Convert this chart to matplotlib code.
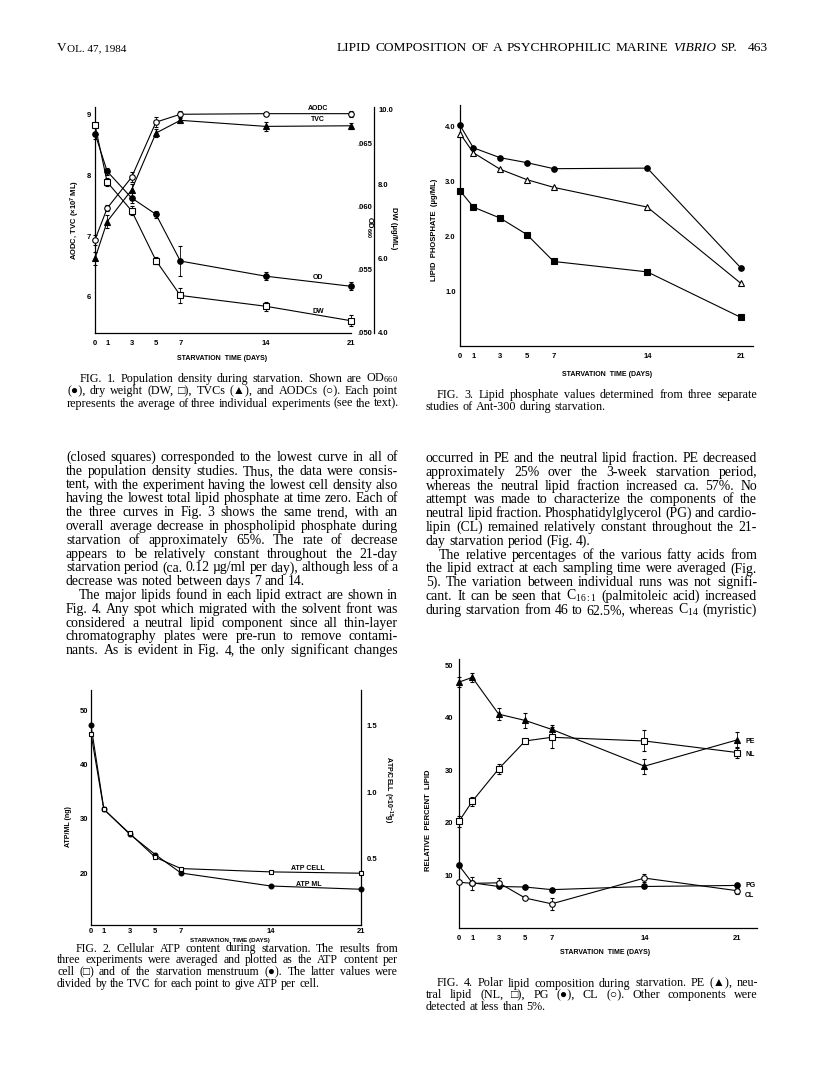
import matplotlib
matplotlib.use("Agg")
import matplotlib.pyplot as plt

plt.rcParams["mathtext.fontset"] = "custom"
plt.rcParams["mathtext.rm"] = "Liberation Serif"
plt.rcParams["mathtext.it"] = "Liberation Serif:italic"
plt.rcParams["mathtext.bf"] = "Liberation Serif:bold"
plt.rcParams["mathtext.default"] = "regular"

W, H = 816, 1086
SERIF = ["Liberation Serif", "DejaVu Sans"]
SANS = ["Liberation Sans", "DejaVu Sans"]

days = [0, 1, 3, 5, 7, 14, 21]
day_labels = ["0", "1", "3", "5", "7", "14", "21"]

# fig 1: population density
aodc = [6.94, 7.46, 7.97, 8.88, 9.01, 9.02, 9.02]
aodc_err = [0.08, 0.05, 0.08, 0.08, 0.05, 0.0, 0.05]
tvc = [6.63, 7.24, 7.76, 8.70, 8.91, 8.81, 8.82]
tvc_err = [0.1, 0.1, 0.1, 0.06, 0.04, 0.07, 0.05]
od = [0.0658, 0.0628, 0.0607, 0.0594, 0.0557, 0.0545, 0.0537]
od_err = [0.0004, 0.0003, 0.0004, 0.0003, 0.0012, 0.0003, 0.0003]
dw = [9.60, 8.06, 7.29, 5.95, 5.01, 4.72, 4.33]
dw_err = [0.0, 0.1, 0.12, 0.1, 0.2, 0.12, 0.15]

# fig 2: ATP
atp_ml = [47.3, 31.8, 27.2, 23.4, 20.0, 17.6, 17.0]
atp_cell = [1.44, 0.87, 0.69, 0.51, 0.425, 0.40, 0.39]

# fig 3: lipid phosphate, three runs
lp_run1 = [4.02, 3.61, 3.43, 3.34, 3.23, 3.24, 1.42]
lp_run2 = [3.87, 3.52, 3.22, 3.03, 2.89, 2.53, 1.14]
lp_run3 = [2.83, 2.53, 2.33, 2.03, 1.54, 1.35, 0.52]

# fig 4: polar lipids
pe = [46.8, 47.7, 40.7, 39.5, 37.8, 30.8, 35.8]
pe_err = [1.0, 0.8, 1.2, 1.5, 0.8, 1.4, 1.6]
nl = [20.3, 24.1, 30.3, 35.6, 36.3, 35.6, 33.4]
nl_err = [1.0, 0.9, 1.0, 0.3, 2.0, 2.0, 1.0]
pg = [11.9, 8.6, 7.9, 7.8, 7.3, 7.9, 8.1]
cl = [8.7, 8.5, 8.6, 5.7, 4.6, 9.5, 7.1]
cl_err = [0.0, 1.2, 1.0, 0.0, 1.2, 0.8, 0.6]

title_words = ["LIPID", "COMPOSITION", "OF", "A", "PSYCHROPHILIC", "MARINE", "VIBRIO", "SP."]

left_text = [
    "(closed squares) corresponded to the lowest curve in all of",
    "the population density studies. Thus, the data were consis-",
    "tent, with the experiment having the lowest cell density also",
    "having the lowest total lipid phosphate at time zero. Each of",
    "the three curves in Fig. 3 shows the same trend, with an",
    "overall average decrease in phospholipid phosphate during",
    "starvation of approximately 65%. The rate of decrease",
    "appears to be relatively constant throughout the 21-day",
    "starvation period (ca. 0.12 \u00b5g/ml per day), although less of a",
    "decrease was noted between days 7 and 14.",
    "The major lipids found in each lipid extract are shown in",
    "Fig. 4. Any spot which migrated with the solvent front was",
    "considered a neutral lipid component since all thin-layer",
    "chromatography plates were pre-run to remove contami-",
    "nants. As is evident in Fig. 4, the only significant changes",
]
right_text = [
    "occurred in PE and the neutral lipid fraction. PE decreased",
    "approximately 25% over the 3-week starvation period,",
    "whereas the neutral lipid fraction increased ca. 57%. No",
    "attempt was made to characterize the components of the",
    "neutral lipid fraction. Phosphatidylglycerol (PG) and cardio-",
    "lipin (CL) remained relatively constant throughout the 21-",
    "day starvation period (Fig. 4).",
    "The relative percentages of the various fatty acids from",
    "the lipid extract at each sampling time were averaged (Fig.",
    "5). The variation between individual runs was not signifi-",
    "cant. It can be seen that C$_{16:1}$ (palmitoleic acid) increased",
    "during starvation from 46 to 62.5%, whereas C$_{14}$ (myristic)",
]
cap1 = [
    "FIG. 1. Population density during starvation. Shown are OD$_{660}$",
    "(\u25cf), dry weight (DW, \u25a1), TVCs (\u25b2), and AODCs (\u25cb). Each point",
    "represents the average of three individual experiments (see the text).",
]
cap2 = [
    "FIG. 2. Cellular ATP content during starvation. The results from",
    "three experiments were averaged and plotted as the ATP content per",
    "cell (\u25a1) and of the starvation menstruum (\u25cf). The latter values were",
    "divided by the TVC for each point to give ATP per cell.",
]
cap3 = [
    "FIG. 3. Lipid phosphate values determined from three separate",
    "studies of Ant-300 during starvation.",
]
cap4 = [
    "FIG. 4. Polar lipid composition during starvation. PE (\u25b2), neu-",
    "tral lipid (NL, \u25a1), PG (\u25cf), CL (\u25cb). Other components were",
    "detected at less than 5%.",
]

fig = plt.figure(figsize=(W / 100, H / 100), dpi=100)
renderer = fig.canvas.get_renderer()


def fx(px):
    return px / W


def fy(py):
    return 1 - py / H


def box(x0, y0, x1, y1):
    return [x0 / W, 1 - y1 / H, (x1 - x0) / W, (y1 - y0) / H]


def put_words(words, x0, x1, y, size, justify=True, italic=()):
    objs = [fig.text(0, fy(y), w, fontsize=size, family=SERIF, va="baseline",
                     style="italic" if w in italic else "normal") for w in words]
    widths = [o.get_window_extent(renderer).width for o in objs]
    if justify and len(words) > 1:
        gap = (x1 - x0 - sum(widths)) / (len(words) - 1)
    else:
        gap = size * 0.25 * 100 / 72
    x = x0
    for o, w in zip(objs, widths):
        o.set_x(fx(x))
        x += w + gap


def paragraph(lines, x0, x1, y0, step, size, indent_rows=(), last_rows=(), indent=13):
    for i, line in enumerate(lines):
        start = x0 + indent if i in indent_rows else x0
        put_words(line.split(), start, x1, y0 + i * step, size, justify=i not in last_rows)


def sans(x, y, s, size=5.5, **kw):
    fig.text(fx(x), fy(y), s, fontsize=size, family=SANS, weight="bold",
             ha="center", va="center", **kw)


def style(ax, xmax, ylim, yticks, ylabels, xpad, ypad):
    ax.set_xlim(0, xmax)
    ax.set_ylim(*ylim)
    ax.set_xticks(days)
    ax.set_xticklabels(day_labels)
    ax.set_yticks(yticks)
    ax.set_yticklabels(ylabels)
    ax.tick_params(length=0, labelsize=5.5)
    ax.tick_params(axis="x", pad=xpad)
    ax.tick_params(axis="y", pad=ypad)
    for lab in ax.get_xticklabels() + ax.get_yticklabels():
        lab.set_fontfamily(SANS)
        lab.set_fontweight("bold")
    ax.spines["top"].set_visible(False)
    ax.spines["right"].set_visible(False)
    for sp in ax.spines.values():
        sp.set_linewidth(0.9)
    ax.patch.set_visible(False)


def series(ax, y, marker, filled, err=None, ms=4):
    c = ax.errorbar(days, y, yerr=err, fmt="-" + marker, color="black", lw=0.8,
                    ms=ms, mfc="black" if filled else "white", mec="black", mew=0.8,
                    elinewidth=0.6, capsize=1.5, capthick=0.6, zorder=3)
    for a in c.get_children():
        a.set_clip_on(False)


def twin_style(tw):
    tw.tick_params(length=0, labelsize=5.5)
    for lab in tw.get_yticklabels():
        lab.set_fontfamily(SANS)
        lab.set_fontweight("bold")
    for sp in tw.spines.values():
        sp.set_visible(False)


# header
v = fig.text(fx(57), fy(51), "V", fontsize=9.5, family=SERIF)
vw = v.get_window_extent(renderer).width
fig.text(fx(57 + vw + 0.5), fy(51), "OL. 47, 1984", fontsize=8, family=SERIF)
put_words(title_words, 337, 737, 51, 9.6, italic={"VIBRIO"})
fig.text(fx(748), fy(51), "463", fontsize=9.6, family=SERIF)

# ---- FIG 1
x1max = 21 * (374 - 95) / (351 - 95)
ax1 = fig.add_axes(box(95, 107, 374, 333))
style(ax1, x1max, (5.40, 9.13), [6, 7, 8, 9], ["6", "7", "8", "9"], 5, 3)
ax1.spines["bottom"].set_bounds(0, 21)
series(ax1, aodc, "o", False, aodc_err)
series(ax1, tvc, "^", True, tvc_err)
ax_od = ax1.twinx()
ax_od.set_ylim(0.050, 0.0679)
ax_od.set_yticks([0.050, 0.055, 0.060, 0.065])
ax_od.set_yticklabels([".050", ".055", ".060", ".065"])
ax_od.yaxis.tick_left()
ax_od.spines["left"].set_position(("axes", 1.0))
twin_style(ax_od)
ax_od.spines["left"].set_visible(True)
ax_od.spines["left"].set_linewidth(0.9)
ax_od.tick_params(pad=1)
series(ax_od, od, "o", True, od_err)
ax_dw = ax1.twinx()
ax_dw.set_ylim(4.0, 10.08)
ax_dw.set_yticks([4, 6, 8, 10])
ax_dw.set_yticklabels(["4.0", "6.0", "8.0", "10.0"])
twin_style(ax_dw)
ax_dw.tick_params(pad=3)
series(ax_dw, dw, "s", False, dw_err)
ax1.text(18.3, 9.11, "AODC", fontsize=5, family=SANS, weight="bold", ha="center", va="center")
ax1.text(18.3, 8.92, "TVC", fontsize=5, family=SANS, weight="bold", ha="center", va="center")
ax1.text(18.3, 6.31, "OD", fontsize=5, family=SANS, weight="bold", ha="center", va="center")
ax1.text(18.3, 5.76, "DW", fontsize=5, family=SANS, weight="bold", ha="center", va="center")
sans(75, 220, "AODC, TVC (\u00d710$^7$ ML)", rotation=90)
sans(369, 227, "OD$_{660}$", rotation=270)
sans(393, 228, "DW (\u00b5g/ML)", rotation=270)
sans(222, 359, "STARVATION  TIME (DAYS)", size=5)

# ---- FIG 2
ax2 = fig.add_axes(box(91, 690, 361, 925))
style(ax2, 21, (10.4, 53.8), [20, 30, 40, 50], ["20", "30", "40", "50"], 2, 2)
ax2.spines["right"].set_visible(True)
ax2.spines["right"].set_linewidth(0.9)
series(ax2, atp_ml, "o", True, ms=3.5)
ax2r = ax2.twinx()
ax2r.set_ylim(0, 1.77)
ax2r.set_yticks([0.5, 1.0, 1.5])
ax2r.set_yticklabels(["0.5", "1.0", "1.5"])
twin_style(ax2r)
ax2r.tick_params(pad=4)
series(ax2r, atp_cell, "s", False, ms=3.5)
ax2.text(16.9, 20.9, "ATP CELL", fontsize=5, family=SANS, weight="bold", ha="center", va="center")
ax2.text(16.9, 17.9, "ATP ML", fontsize=5, family=SANS, weight="bold", ha="center", va="center")
sans(68, 827, "ATP/ML (ng)", size=5, rotation=90)
sans(388, 790, "ATP/CELL (\u00d710$^{-15}$g)", size=5, rotation=270)
sans(230, 940.5, "STARVATION  TIME (DAYS)", size=4.5)

# ---- FIG 3
ax3 = fig.add_axes(box(460, 105, 753, 346))
style(ax3, 21.9, (0, 4.39), [1, 2, 3, 4], ["1.0", "2.0", "3.0", "4.0"], 5, 3)
series(ax3, lp_run1, "o", True)
series(ax3, lp_run2, "^", False)
series(ax3, lp_run3, "s", True)
sans(435, 230, "LIPID  PHOSPHATE  (\u00b5g/ML)", rotation=90)
sans(607, 375, "STARVATION  TIME (DAYS)", size=5)

# ---- FIG 4
ax4 = fig.add_axes(box(459, 659, 757, 928))
style(ax4, 22.5, (0, 51.2), [10, 20, 30, 40, 50], ["10", "20", "30", "40", "50"], 5, 4)
series(ax4, pe, "^", True, pe_err)
series(ax4, nl, "s", False, nl_err)
series(ax4, pg, "o", True)
series(ax4, cl, "o", False, cl_err)
for name, yv in [("PE", 35.5), ("NL", 33.0), ("PG", 8.1), ("CL", 6.2)]:
    ax4.text(21.6, yv, name, fontsize=5, family=SANS, weight="bold", ha="left", va="center")
sans(429, 820, "RELATIVE  PERCENT  LIPID", rotation=90)
sans(605, 953, "STARVATION  TIME (DAYS)", size=5)

# ---- body text
paragraph(left_text, 66, 398, 461, 13.8, 9.9, indent_rows={10}, last_rows={9})
paragraph(right_text, 426, 757, 462, 13.8, 9.9, indent_rows={7}, last_rows={6})

# ---- captions
paragraph(cap1, 67, 398, 381.5, 12.5, 8.7, indent_rows={0}, last_rows={2})
paragraph(cap3, 426, 757, 398, 12.3, 8.7, indent_rows={0}, last_rows={1}, indent=11)
paragraph(cap2, 57, 398, 951.5, 11.7, 8.5, indent_rows={0}, last_rows={3}, indent=19)
paragraph(cap4, 426, 758, 986.5, 11.7, 8.7, indent_rows={0}, last_rows={2}, indent=11)

fig.savefig("out.png", dpi=100)
